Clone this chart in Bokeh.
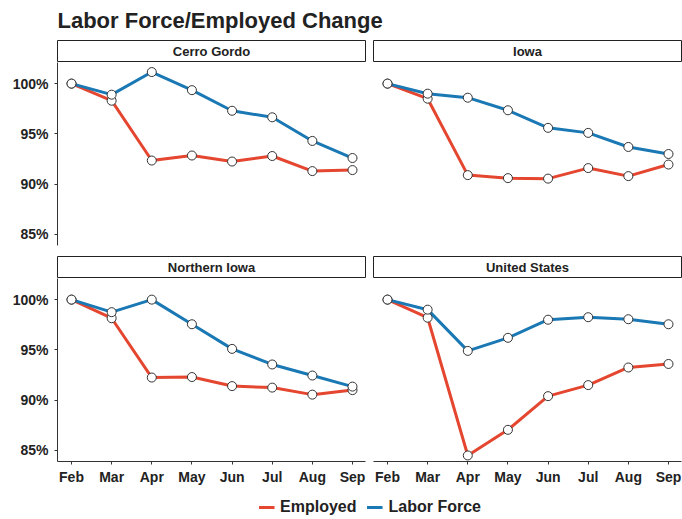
from bokeh.plotting import figure
from bokeh.layouts import column, row
from bokeh.models import (Range1d, FixedTicker, PrintfTickFormatter, Label,
                          Legend, LegendItem)
from bokeh.core.properties import value
from bokeh.embed import file_html
from bokeh.resources import INLINE

# ---------------- data ----------------
months = ["Feb", "Mar", "Apr", "May", "Jun", "Jul", "Aug", "Sep"]
y_ticks = [85, 90, 95, 100]

panel_names = ["Cerro Gordo", "Iowa", "Northern Iowa", "United States"]

cerro_gordo_employed = [100, 98.3, 92.35, 92.85, 92.25, 92.8, 91.3, 91.4]
cerro_gordo_labor = [100, 98.9, 101.15, 99.35, 97.3, 96.65, 94.3, 92.6]

iowa_employed = [100, 98.5, 90.9, 90.6, 90.55, 91.6, 90.8, 91.95]
iowa_labor = [100, 99.0, 98.6, 97.35, 95.6, 95.1, 93.7, 93.0]

northern_iowa_employed = [100, 98.15, 92.25, 92.3, 91.4, 91.25, 90.55, 91.0]
northern_iowa_labor = [100, 98.75, 100, 97.55, 95.1, 93.55, 92.45, 91.35]

us_employed = [100, 98.2, 84.5, 87.05, 90.4, 91.5, 93.25, 93.6]
us_labor = [100, 99.0, 94.9, 96.2, 98.0, 98.25, 98.05, 97.55]

series_names = ["Employed", "Labor Force"]
chart_title = "Labor Force/Employed Change"

# ---------------- style ----------------
RED = "#E4462F"
BLUE = "#1A78B4"
FONT = "Liberation Sans"
TXT = "#222222"
FW, FH = 308, 183
LEFT_BORDER = 57

x_idx = list(range(len(months)))


def make_panel(emp, lab, left, bottom):
    p = figure(frame_width=FW, frame_height=FH,
               x_range=Range1d(-0.349, 7.324), y_range=Range1d(83.9, 102.1),
               output_backend="svg", toolbar_location=None,
               min_border_left=LEFT_BORDER if left else 4,
               min_border_right=4 if left else 1,
               min_border_top=0,
               min_border_bottom=33 if bottom else 10,
               x_axis_location="below" if bottom else None,
               y_axis_location="left" if left else None)
    p.outline_line_color = None
    p.grid.visible = False
    p.background_fill_color = "white"
    p.border_fill_color = "white"
    p.line(x_idx, emp, color=RED, line_width=3)
    p.line(x_idx, lab, color=BLUE, line_width=3)
    p.scatter(x_idx, emp, marker="circle", size=9, fill_color="white",
              line_color="#333333", line_width=1)
    p.scatter(x_idx, lab, marker="circle", size=9, fill_color="white",
              line_color="#333333", line_width=1)
    for ax in list(p.xaxis) + list(p.yaxis):
        ax.axis_line_color = "#333333"
        ax.axis_line_width = 1
        ax.major_tick_line_color = "#333333"
        ax.major_tick_out = 3
        ax.major_tick_in = 0
        ax.minor_tick_line_color = None
        ax.major_label_text_font = FONT
        ax.major_label_text_font_size = "14px"
        ax.major_label_text_font_style = "bold"
        ax.major_label_text_color = TXT
    if bottom:
        p.xaxis.ticker = FixedTicker(ticks=x_idx)
        p.xaxis.major_label_overrides = {i: m for i, m in enumerate(months)}
        p.xaxis.major_label_standoff = 4
    if left:
        p.yaxis.ticker = FixedTicker(ticks=y_ticks)
        p.yaxis.formatter = PrintfTickFormatter(format="%d%%")
        p.yaxis.major_label_standoff = 6
    return p


def make_strip(name, left):
    p = figure(frame_width=FW, frame_height=22,
               x_range=Range1d(0, 1), y_range=Range1d(0, 1),
               output_backend="svg", toolbar_location=None,
               min_border_left=LEFT_BORDER if left else 4,
               min_border_right=4 if left else 1,
               min_border_top=1, min_border_bottom=0,
               x_axis_location=None, y_axis_location=None)
    p.grid.visible = False
    p.outline_line_color = "#222222"
    p.outline_line_width = 1
    p.add_layout(Label(x=0.5, y=0.5, text=name, text_align="center",
                       text_baseline="middle", text_font=FONT,
                       text_font_size="13px", text_font_style="bold",
                       text_color=TXT))
    return p


# title: a figure whose frame starts where the panels start
title_fig = figure(frame_width=625, frame_height=39,
                   min_border_left=LEFT_BORDER, min_border_right=0,
                   min_border_top=0, min_border_bottom=0,
                   x_range=Range1d(0, 1), y_range=Range1d(0, 1),
                   output_backend="svg", toolbar_location=None,
                   x_axis_location=None, y_axis_location=None)
title_fig.grid.visible = False
title_fig.outline_line_color = None
title_fig.text(x=[0], y=[0.5], text=[chart_title],
               text_font=value(FONT), text_font_size="22px",
               text_font_style="bold", text_color=TXT,
               text_baseline="alphabetic", text_align="left")

data = [(cerro_gordo_employed, cerro_gordo_labor),
        (iowa_employed, iowa_labor),
        (northern_iowa_employed, northern_iowa_labor),
        (us_employed, us_labor)]

s1l = make_strip(panel_names[0], True)
s1r = make_strip(panel_names[1], False)
p1l = make_panel(*data[0], left=True, bottom=False)
p1r = make_panel(*data[1], left=False, bottom=False)
s2l = make_strip(panel_names[2], True)
s2r = make_strip(panel_names[3], False)
p2l = make_panel(*data[2], left=True, bottom=True)
p2r = make_panel(*data[3], left=False, bottom=True)

# legend (its renderers hold real series data but lie outside the view)
leg_fig = figure(frame_width=625, frame_height=25, min_border_left=LEFT_BORDER,
                 min_border_right=0, min_border_top=0, min_border_bottom=0,
                 x_range=Range1d(0, 1), y_range=Range1d(0, 1),
                 output_backend="svg", toolbar_location=None,
                 x_axis_location=None, y_axis_location=None)
leg_fig.grid.visible = False
leg_fig.outline_line_color = None
r1 = leg_fig.line(x_idx, us_employed, color=RED, line_width=3)
r2 = leg_fig.line(x_idx, us_labor, color=BLUE, line_width=3)
legend = Legend(items=[LegendItem(label=series_names[0], renderers=[r1]),
                       LegendItem(label=series_names[1], renderers=[r2])],
                orientation="horizontal", location="center",
                border_line_color=None, background_fill_alpha=0,
                label_text_font=FONT, label_text_font_size="16px",
                label_text_font_style="bold", label_text_color=TXT,
                glyph_width=16, glyph_height=16, label_standoff=6,
                spacing=10, padding=0, margin=0)
leg_fig.add_layout(legend)

layout = column(title_fig, row(s1l, s1r), row(p1l, p1r),
                row(s2l, s2r), row(p2l, p2r), leg_fig)

open("out.html", "w").write(file_html(layout, INLINE))
